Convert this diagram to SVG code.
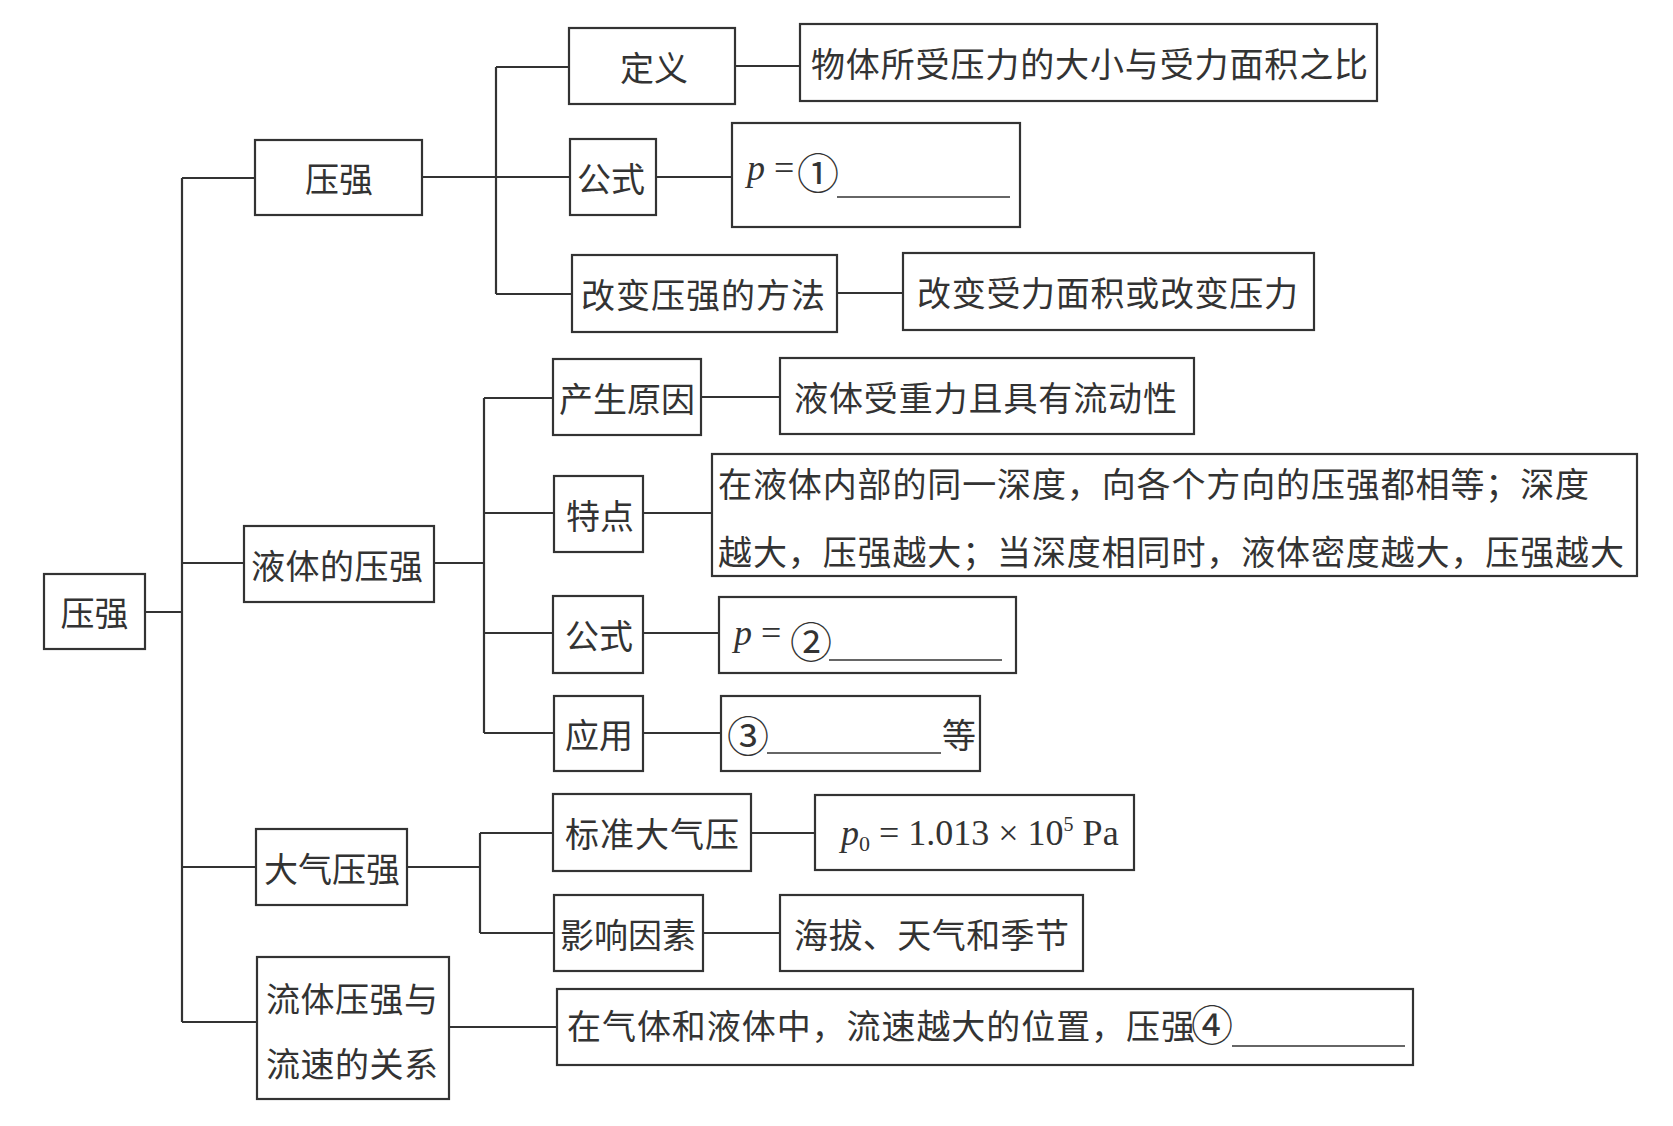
<svg xmlns="http://www.w3.org/2000/svg" width="1673" height="1126" viewBox="0 0 1673 1126">
<style>
.bx{fill:#fff;stroke:#333;stroke-width:2.2}
.ln{fill:none;stroke:#333;stroke-width:2.2}
.t{font-family:"Noto Sans CJK SC","Noto Sans CJK JP",sans-serif;font-size:34px;fill:#333;dominant-baseline:central;text-anchor:middle}
.tl{font-family:"Noto Sans CJK SC","Noto Sans CJK JP",sans-serif;font-size:34px;fill:#333;dominant-baseline:central;text-anchor:start}
.m{font-family:"Liberation Serif","Times New Roman",serif;font-size:36px;fill:#333}
.c{font-family:"Noto Sans CJK SC","Noto Sans CJK JP",sans-serif;font-size:42px;fill:#333;dominant-baseline:central;text-anchor:middle}
.u{fill:none;stroke:#333;stroke-width:1.6}
</style>
<rect width="1673" height="1126" fill="#fff"/>
<g id="connectors">
<polyline class="ln" points="145,612 182,612"/>
<polyline class="ln" points="182,178 182,1022"/>
<polyline class="ln" points="182,178 255,178"/>
<polyline class="ln" points="182,563 244,563"/>
<polyline class="ln" points="182,867 256,867"/>
<polyline class="ln" points="182,1022 257,1022"/>
<polyline class="ln" points="422,177 496,177"/>
<polyline class="ln" points="496,67 496,294"/>
<polyline class="ln" points="496,67 569,67"/>
<polyline class="ln" points="496,177 570,177"/>
<polyline class="ln" points="496,294 572,294"/>
<polyline class="ln" points="735,66 800,66"/>
<polyline class="ln" points="656,177 732,177"/>
<polyline class="ln" points="837,293 903,293"/>
<polyline class="ln" points="434,563 484,563"/>
<polyline class="ln" points="484,398 484,733"/>
<polyline class="ln" points="484,398 553,398"/>
<polyline class="ln" points="484,513 554,513"/>
<polyline class="ln" points="484,633 553,633"/>
<polyline class="ln" points="484,733 554,733"/>
<polyline class="ln" points="701,397 780,397"/>
<polyline class="ln" points="643,513 712,513"/>
<polyline class="ln" points="643,633 719,633"/>
<polyline class="ln" points="643,733 721,733"/>
<polyline class="ln" points="407,867 480,867"/>
<polyline class="ln" points="480,833 480,933"/>
<polyline class="ln" points="480,833 553,833"/>
<polyline class="ln" points="480,933 554,933"/>
<polyline class="ln" points="751,833 815,833"/>
<polyline class="ln" points="703,933 780,933"/>
<polyline class="ln" points="449,1027 557,1027"/>
</g>
<g id="root">
<rect class="bx" x="44" y="574" width="101" height="75"/>
<text class="t" x="94.5" y="611">压强</text>
</g>
<g id="yaqiang">
<rect class="bx" x="255" y="140" width="167" height="75"/>
<text class="t" x="339" y="177">压强</text>
</g>
<g id="dingyi">
<rect class="bx" x="569" y="28" width="166" height="76"/>
<text class="t" x="654" y="66">定义</text>
</g>
<g id="dingyi-text">
<rect class="bx" x="800" y="24" width="577" height="77"/>
<text class="tl" x="811" y="62" textLength="557" lengthAdjust="spacing">物体所受压力的大小与受力面积之比</text>
</g>
<g id="gongshi1">
<rect class="bx" x="570" y="139" width="86" height="76"/>
<text class="t" x="611" y="177">公式</text>
</g>
<g id="formula1">
<rect class="bx" x="732" y="123" width="288" height="104"/>
<text class="m" x="747" y="180"><tspan font-style="italic">p</tspan> =</text>
<text class="c" x="818" y="170">①</text>
<line class="u" x1="837" y1="197" x2="1010" y2="197"/>
</g>
<g id="gaibian">
<rect class="bx" x="572" y="255" width="265" height="77"/>
<text class="tl" x="581" y="293" textLength="244" lengthAdjust="spacing">改变压强的方法</text>
</g>
<g id="gaibian-text">
<rect class="bx" x="903" y="253" width="411" height="77"/>
<text class="tl" x="917" y="291" textLength="381" lengthAdjust="spacing">改变受力面积或改变压力</text>
</g>
<g id="yeti">
<rect class="bx" x="244" y="526" width="190" height="76"/>
<text class="tl" x="251" y="564" textLength="172" lengthAdjust="spacing">液体的压强</text>
</g>
<g id="chansheng">
<rect class="bx" x="553" y="359" width="148" height="76"/>
<text class="t" x="627" y="397">产生原因</text>
</g>
<g id="chansheng-text">
<rect class="bx" x="780" y="358" width="414" height="76"/>
<text class="tl" x="794" y="396" textLength="383" lengthAdjust="spacing">液体受重力且具有流动性</text>
</g>
<g id="tedian">
<rect class="bx" x="554" y="476" width="89" height="76"/>
<text class="t" x="600" y="514">特点</text>
</g>
<g id="tedian-text">
<rect class="bx" x="712" y="454" width="925" height="122"/>
<text class="tl" x="718" y="482" textLength="871" lengthAdjust="spacing">在液体内部的同一深度，向各个方向的压强都相等；深度</text>
<text class="tl" x="718" y="550" textLength="906" lengthAdjust="spacing">越大，压强越大；当深度相同时，液体密度越大，压强越大</text>
</g>
<g id="gongshi2">
<rect class="bx" x="553" y="596" width="90" height="77"/>
<text class="t" x="599" y="634">公式</text>
</g>
<g id="formula2">
<rect class="bx" x="719" y="597" width="297" height="76"/>
<text class="m" x="734" y="645"><tspan font-style="italic">p</tspan> =</text>
<text class="c" x="811" y="639">②</text>
<line class="u" x1="829" y1="660" x2="1002" y2="660"/>
</g>
<g id="yingyong">
<rect class="bx" x="554" y="696" width="89" height="75"/>
<text class="t" x="599" y="733">应用</text>
</g>
<g id="yingyong-text">
<rect class="bx" x="721" y="696" width="259" height="75"/>
<text class="c" x="748" y="733">③</text>
<line class="u" x1="767" y1="753" x2="941" y2="753"/>
<text class="tl" x="942" y="733">等</text>
</g>
<g id="daqi">
<rect class="bx" x="256" y="829" width="151" height="76"/>
<text class="t" x="332" y="867">大气压强</text>
</g>
<g id="biaozhun">
<rect class="bx" x="553" y="794" width="198" height="77"/>
<text class="tl" x="565" y="832" textLength="174" lengthAdjust="spacing">标准大气压</text>
</g>
<g id="biaozhun-text">
<rect class="bx" x="815" y="795" width="319" height="75"/>
<text class="m" x="841" y="845" font-size="35"><tspan font-style="italic">p</tspan><tspan font-size="22" dy="6">0</tspan><tspan dy="-6"> = 1.013 × 10</tspan><tspan font-size="20" dy="-14">5</tspan><tspan dy="14"> Pa</tspan></text>
</g>
<g id="yingxiang">
<rect class="bx" x="554" y="895" width="149" height="76"/>
<text class="t" x="628" y="933">影响因素</text>
</g>
<g id="yingxiang-text">
<rect class="bx" x="780" y="895" width="303" height="76"/>
<text class="tl" x="794" y="933" textLength="275" lengthAdjust="spacing">海拔、天气和季节</text>
</g>
<g id="liuti">
<rect class="bx" x="257" y="957" width="192" height="142"/>
<text class="tl" x="266" y="997" textLength="172" lengthAdjust="spacing">流体压强与</text>
<text class="tl" x="266" y="1062" textLength="172" lengthAdjust="spacing">流速的关系</text>
</g>
<g id="liuti-text">
<rect class="bx" x="557" y="989" width="856" height="76"/>
<text class="tl" x="567" y="1024" textLength="628" lengthAdjust="spacing">在气体和液体中，流速越大的位置，压强</text>
<text class="c" x="1212" y="1022">④</text>
<line class="u" x1="1232" y1="1046" x2="1405" y2="1046"/>
</g>
</svg>
